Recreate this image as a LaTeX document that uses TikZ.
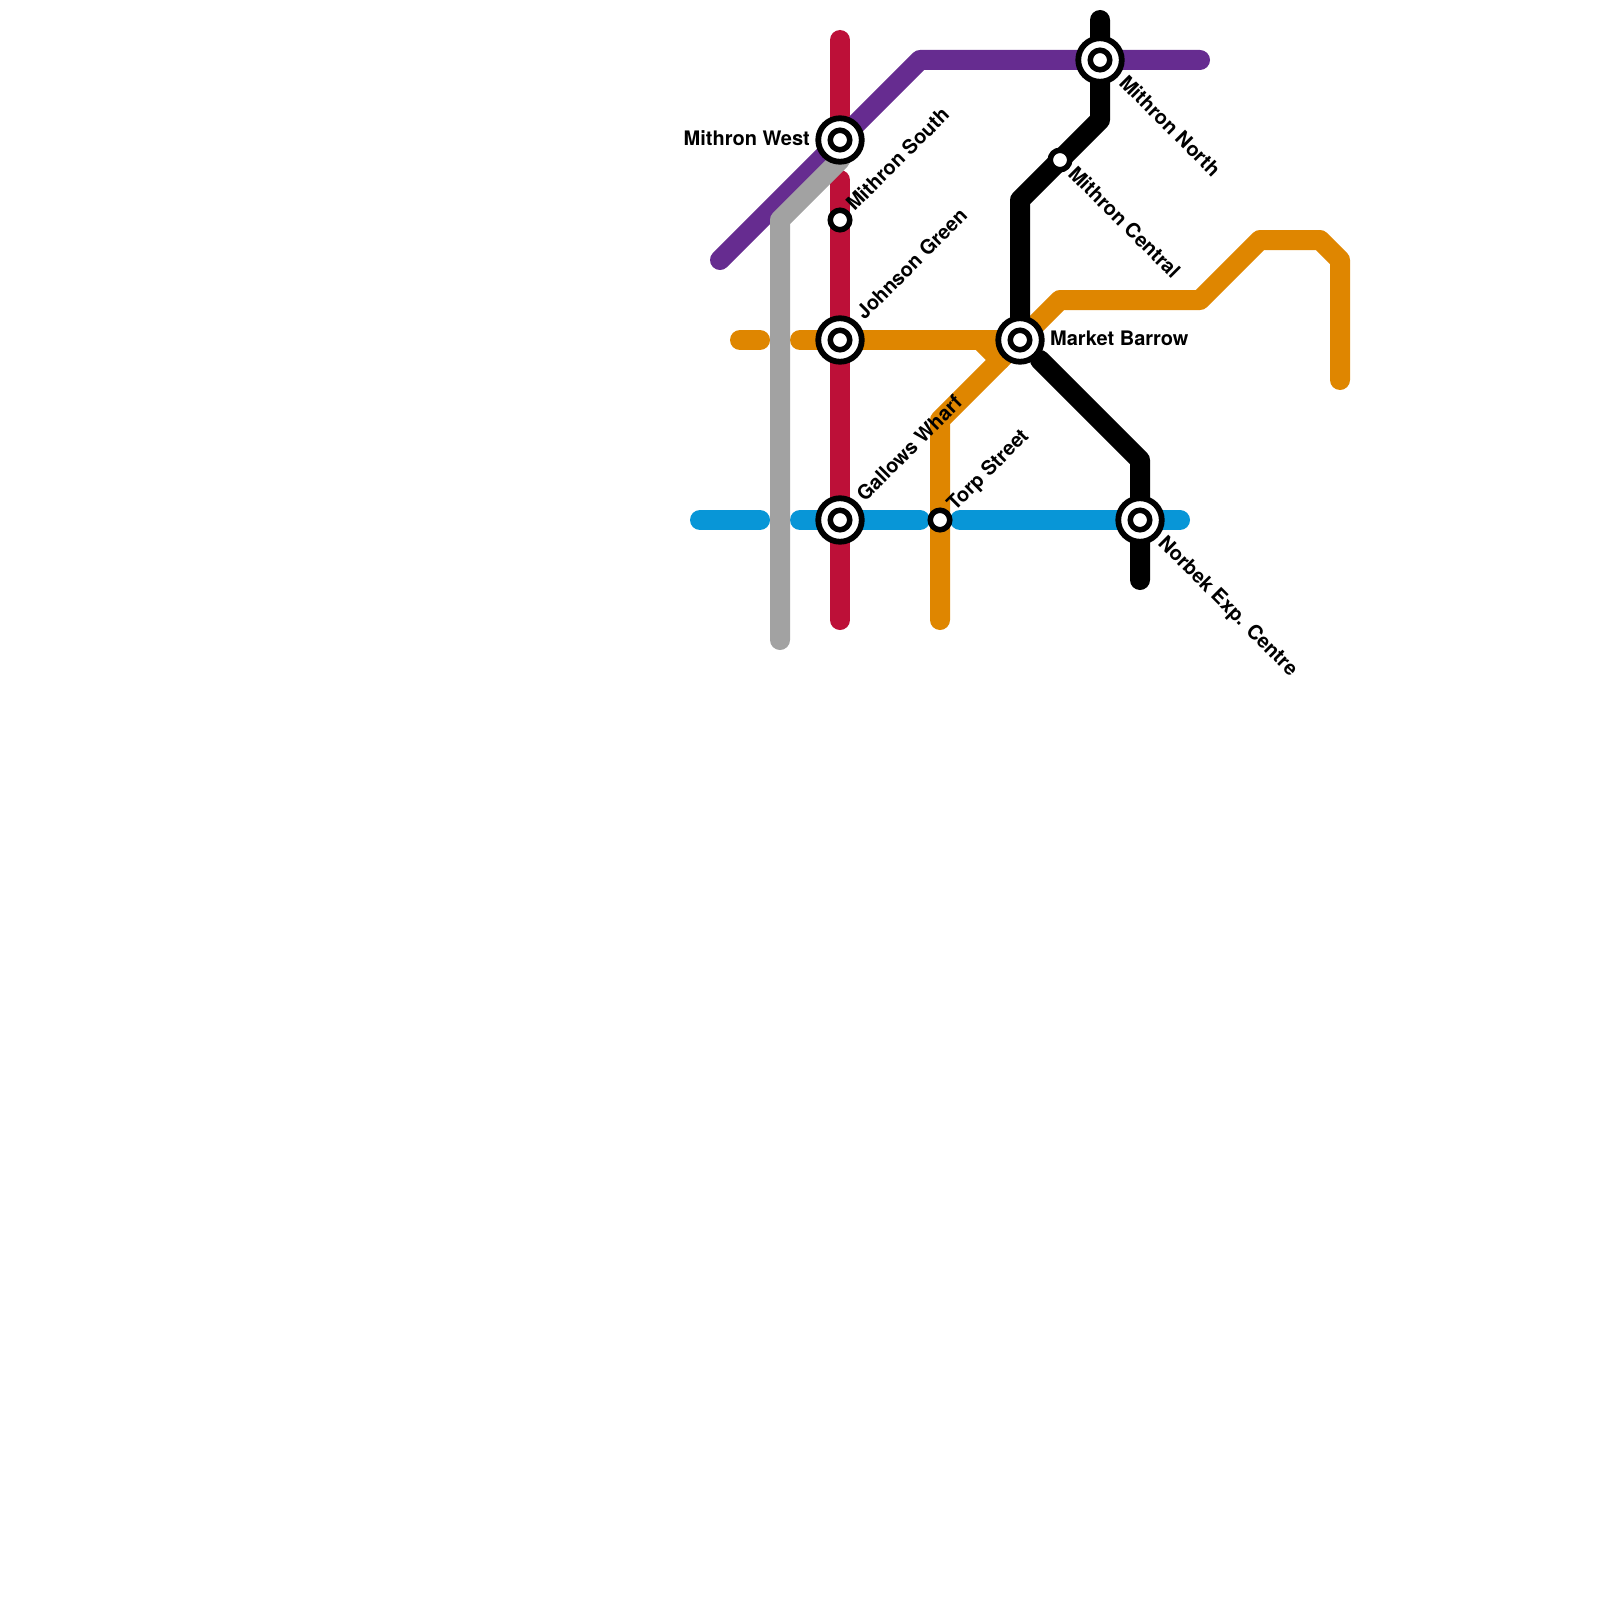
\documentclass[tikz,border=0pt]{standalone}
\usepackage{fontspec}
\setmainfont{TeX Gyre Heros}
\definecolor{redline}{HTML}{BD1038}
\definecolor{purpleline}{HTML}{662C90}
\definecolor{grayline}{HTML}{A2A2A2}
\definecolor{orangeline}{HTML}{DF8600}
\definecolor{blueline}{HTML}{0896D7}
\tikzset{
    route/.style={line width=20pt,line cap=round,line join=round},
    hub/.style={circle,draw=black,fill=white,line width=5.8pt,minimum size=43.5pt,inner sep=0pt},
    stop/.style={circle,draw=black,fill=white,line width=5.5pt,minimum size=19.5pt,inner sep=0pt},
    lbl/.style={font=\fontsize{20}{24}\selectfont\bfseries,inner sep=0pt}
}
\begin{document}
\begin{tikzpicture}[x=1pt,y=-1pt]
    \useasboundingbox (0,0) rectangle (1600,1600);
    \coordinate (mw) at (840,140);
    \coordinate (ms) at (840,220);
    \coordinate (jg) at (840,340);
    \coordinate (gw) at (840,520);
    \coordinate (ts) at (940,520);
    \coordinate (mb) at (1020,340);
    \coordinate (mc) at (1060,160);
    \coordinate (mn) at (1100,60);
    \coordinate (ne) at (1140,520);
    % routes
    \draw[route,blueline] (700,520) -- (760,520);
    \draw[route,blueline] (800,520) -- (920,520);
    \draw[route,blueline] (960,520) -- (1180,520);
    \draw[route,orangeline] (740,340) -- (760,340);
    \draw[route,orangeline] (800,340) -- (mb);
    \draw[route,orangeline] (980,340) -- (1000,360);
    \draw[route,orangeline] (940,620) -- (940,420) -- (mb) -- (1060,300) -- (1200,300)
        -- (1260,240) -- (1320,240) -- (1340,260) -- (1340,380);
    \draw[route,redline] (840,40) -- (mw);
    \draw[route,redline] (840,180) -- (840,620);
    \draw[route,purpleline] (720,260) -- (920,60) -- (1200,60);
    \draw[route,grayline] (780,640) -- (780,220) -- (840,160);
    \draw[route,black] (1100,20) -- (1100,120) -- (1020,200) -- (mb);
    \draw[route,black] (1040,360) -- (1140,460) -- (1140,580);
    % stations
    \foreach \nn in {mw,jg,gw,mb,mn,ne} {
        \node[hub] (\nn-hub) at (\nn) {};
        \node[stop] (\nn-dot) at (\nn) {};
    }
    \foreach \nn in {ms,ts,mc} {
        \node[stop] (\nn-dot) at (\nn) {};
    }
    % labels
    \node[lbl,anchor=base east] (mw-lbl) at (810,145.4) {Mithron West};
    \node[lbl,anchor=base west,rotate=45] (ms-lbl) at (854.5,212) {Mithron South};
    \node[lbl,anchor=base west,rotate=45] (jg-lbl) at (864.5,321) {Johnson Green};
    \node[lbl,anchor=base west,rotate=45] (gw-lbl) at (865,502.5) {Gallows Wharf};
    \node[lbl,anchor=base west,rotate=45] (ts-lbl) at (955,512) {Torp Street};
    \node[lbl,anchor=base west] (mb-lbl) at (1050,345) {Market Barrow};
    \node[lbl,anchor=base west,rotate=-45] (mn-lbl) at (1118,84) {Mithron North};
    \node[lbl,anchor=base west,rotate=-45] (mc-lbl) at (1067,175) {Mithron Central};
    \node[lbl,anchor=base west,rotate=-45] (ne-lbl) at (1157,544) {Norbek Exp. Centre};
\end{tikzpicture}
\end{document}
